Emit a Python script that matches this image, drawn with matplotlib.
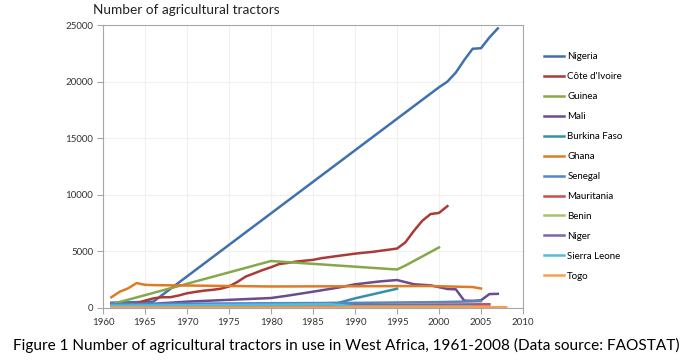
import matplotlib
matplotlib.use("Agg")
import matplotlib.pyplot as plt

plt.rcParams['font.family'] = ['Lato', 'DejaVu Sans']

# === Dati ===
countries = ["Nigeria", "Côte d'Ivoire", "Guinea", "Mali", "Burkina Faso", "Ghana",
             "Senegal", "Mauritania", "Benin", "Niger", "Sierra Leone", "Togo"]

nigeria_years = [1961, 1962, 1963, 1964, 1965, 1966, 2000, 2001, 2002, 2003, 2004, 2005, 2006, 2007]
nigeria_vals = [470, 480, 500, 520, 540, 560, 19500, 20000, 20800, 21900, 22900, 22950, 23900, 24700]

civ_years = list(range(1961, 2002))
civ_vals = [270, 330, 380, 420, 650, 850, 950, 950, 1100, 1300,
            1420, 1530, 1600, 1700, 1900, 2300, 2780, 3060, 3350, 3600,
            3890, 3980, 4100, 4180, 4250, 4400, 4500, 4600, 4700, 4800,
            4880, 4950, 5050, 5150, 5250, 5800, 6800, 7700, 8300, 8400, 9000]

guinea_years = [1961, 1980, 1981, 1995, 1996, 2000]
guinea_vals = [330, 4150, 4100, 3400, 3750, 5350]

mali_years = [1961, 1964, 1966, 1967, 1970, 1975, 1980, 1982, 1985, 1988, 1990, 1993,
              1995, 1997, 1999, 2001, 2002, 2003, 2004, 2005, 2006, 2007]
mali_vals = [100, 150, 350, 420, 560, 720, 880, 1090, 1440, 1800, 2090, 2350,
             2470, 2100, 2000, 1680, 1650, 650, 630, 680, 1230, 1250]

burkina_years = [1961, 1970, 1980, 1988, 1990, 1994, 1995]
burkina_vals = [200, 250, 300, 450, 850, 1530, 1700]

ghana_years = [1961, 1962, 1963, 1964, 1965, 1966, 1980, 1999, 2004, 2005]
ghana_vals = [950, 1440, 1740, 2200, 2050, 2020, 1900, 1940, 1850, 1720]

senegal_years = [1961, 1970, 1980, 1990, 2000, 2005]
senegal_vals = [350, 380, 420, 450, 520, 600]

mauritania_years = [1961, 1970, 1980, 1990, 2000, 2006]
mauritania_vals = [100, 150, 200, 250, 300, 330]

benin_years = [1961, 1980, 1998]
benin_vals = [50, 100, 120]

niger_years = [1961, 1980, 2000, 2006]
niger_vals = [20, 60, 80, 100]

sierra_years = [1961, 1987, 1990, 2004]
sierra_vals = [200, 330, 150, 150]

togo_years = [1961, 1990, 2008]
togo_vals = [30, 50, 70]

series = [
    (nigeria_years, nigeria_vals, '#4170AE'),
    (civ_years, civ_vals, '#AA3B37'),
    (guinea_years, guinea_vals, '#86A84A'),
    (mali_years, mali_vals, '#6A4C8F'),
    (burkina_years, burkina_vals, '#3391A8'),
    (ghana_years, ghana_vals, '#E07A26'),
    (senegal_years, senegal_vals, '#5088C8'),
    (mauritania_years, mauritania_vals, '#C9504C'),
    (benin_years, benin_vals, '#A6C46C'),
    (niger_years, niger_vals, '#8064A8'),
    (sierra_years, sierra_vals, '#55BDD8'),
    (togo_years, togo_vals, '#F8A050'),
]

# === Figura ===
fig = plt.figure(figsize=(6.92, 3.62), dpi=100)
ax = fig.add_axes([0.1488, 0.1492, 0.6070, 0.7817])

for name, (yrs, vals, col) in zip(countries, series):
    ax.plot(yrs, vals, color=col, lw=1.8, label=name, solid_joinstyle='round')

ax.set_xlim(1960, 2010)
ax.set_ylim(0, 25000)
ax.set_xticks(range(1960, 2011, 5))
ax.set_yticks(range(0, 25001, 5000))
ax.grid(True, color='#F0F0F0', lw=0.8)
ax.set_axisbelow(True)
for s in ax.spines.values():
    s.set_color('#A6A6A6')
    s.set_linewidth(0.8)
ax.tick_params(axis='both', direction='out', length=4, width=0.8, color='#A6A6A6',
               labelsize=7, labelcolor='#333333', pad=3)

fig.text(93 / 692, 1 - 10 / 362, "Number of agricultural tractors", fontsize=9.8,
         ha='left', va='center', color='#222222')

ax.legend(loc='upper left', bbox_to_anchor=(544 / 692, 1 - 52 / 362),
          bbox_transform=fig.transFigure, frameon=False, fontsize=7,
          labelspacing=1.13, handlelength=2.1, handletextpad=0.3,
          borderpad=0, borderaxespad=0)

fig.text(0.5, 1 - 345 / 362,
         "Figure 1 Number of agricultural tractors in use in West Africa, 1961-2008 (Data source: FAOSTAT)",
         fontsize=11.1, ha='center', va='center', color='black')

fig.savefig("out.png", dpi=100)
